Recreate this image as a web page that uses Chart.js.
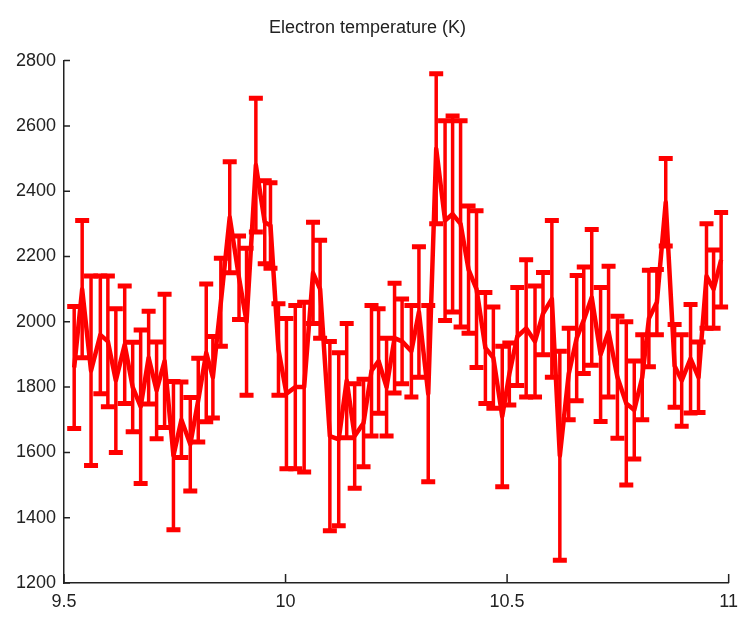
<!DOCTYPE html>
<html lang="fr">
<head>
<meta charset="utf-8">
<title>Electron temperature (K)</title>
<script src="https://cdn.jsdelivr.net/npm/chart.js@4.4.0/dist/chart.umd.min.js"></script>
<style>
    html, body { margin: 0; padding: 0; background: #ffffff; }
    #temp-chart { display: block; }
</style>
</head>
<body>
<canvas id="temp-chart" width="746" height="621"></canvas>
<script>
// Données (abscisse, température, demi-barre d'erreur)
const heures = [
    9.523, 9.541, 9.561, 9.582, 9.599, 9.617, 9.637, 9.655, 9.673, 9.691,
    9.709, 9.727, 9.747, 9.765, 9.785, 9.803, 9.821, 9.836, 9.854, 9.874,
    9.895, 9.912, 9.933, 9.953, 9.966, 9.984, 10.002, 10.022, 10.042, 10.062,
    10.078, 10.100, 10.120, 10.138, 10.156, 10.176, 10.194, 10.210, 10.228, 10.246,
    10.263, 10.284, 10.301, 10.322, 10.340, 10.360, 10.377, 10.395, 10.413, 10.431,
    10.451, 10.469, 10.489, 10.505, 10.523, 10.543, 10.563, 10.581, 10.601, 10.619,
    10.639, 10.657, 10.673, 10.691, 10.711, 10.729, 10.749, 10.769, 10.787, 10.805,
    10.820, 10.838, 10.858, 10.878, 10.894, 10.914, 10.932, 10.950, 10.966, 10.983
];
const temperatures = [
    1860, 2100, 1850, 1960, 1940, 1820, 1930, 1800, 1740, 1890,
    1790, 1880, 1590, 1700, 1625, 1760, 1905, 1830, 2060, 2320,
    2135, 2000, 2480, 2305, 2295, 1915, 1780, 1800, 1800, 2150,
    2100, 1650, 1640, 1820, 1650, 1690, 1850, 1880, 1800, 1950,
    1940, 1910, 2030, 1780, 2530, 2310, 2330, 2300, 2160, 2100,
    1920, 1890, 1710, 1840, 1955, 1980, 1940, 2025, 2070, 1590,
    1840, 1950, 2005, 2075, 1900, 1970, 1830, 1750, 1730, 1830,
    2010, 2060, 2366, 1865, 1820, 1887, 1830, 2140, 2100, 2190
];
const erreurs = [
    187, 210, 290, 180, 200, 220, 180, 137, 235, 142,
    148, 204, 227, 116, 143, 128, 211, 125, 135, 170,
    128, 225, 205, 127, 131, 140, 230, 250, 260, 155,
    150, 290, 265, 175, 160, 134, 200, 160, 150, 168,
    130, 140, 200, 270, 230, 306, 300, 316, 195, 240,
    170, 155, 215, 95, 150, 210, 170, 126, 240, 320,
    140, 192, 163, 208, 205, 200, 187, 250, 150, 130,
    148, 100, 134, 127, 140, 166, 108, 160, 120, 145
];
const ticksX = [9.5, 10, 10.5, 11];
const ticksY = [1200, 1400, 1600, 1800, 2000, 2200, 2400, 2600, 2800];
const titre = 'Electron temperature (K)';

const rouge = '#ff0000';
const police = '"Liberation Sans Narrow", "Arial Narrow", "Liberation Sans", sans-serif';

// Plugin : barres d'erreur verticales avec capuchons
const barresErreur = {
    id: 'barresErreur',
    afterDatasetsDraw(chart) {
        const ctx = chart.ctx;
        const sx = chart.scales.x;
        const sy = chart.scales.y;
        ctx.save();
        ctx.strokeStyle = rouge;
        heures.forEach((h, i) => {
            const px = sx.getPixelForValue(h);
            const haut = sy.getPixelForValue(temperatures[i] + erreurs[i]);
            const bas = sy.getPixelForValue(temperatures[i] - erreurs[i]);
            ctx.lineWidth = 3.5;
            ctx.beginPath();
            ctx.moveTo(px, haut);
            ctx.lineTo(px, bas);
            ctx.stroke();
            // capuchons
            ctx.lineWidth = 5;
            ctx.beginPath();
            ctx.moveTo(px - 7, haut);
            ctx.lineTo(px + 7, haut);
            ctx.moveTo(px - 7, bas);
            ctx.lineTo(px + 7, bas);
            ctx.stroke();
        });
        ctx.restore();
    }
};

// Plugin : graduations tournées vers l'intérieur (style MATLAB)
const graduations = {
    id: 'graduations',
    afterDraw(chart) {
        const ctx = chart.ctx;
        const area = chart.chartArea;
        const sx = chart.scales.x;
        const sy = chart.scales.y;
        ctx.save();
        ctx.strokeStyle = '#222222';
        ctx.lineWidth = 1.5;
        ctx.beginPath();
        sx.ticks.forEach((t, i) => {
            const px = sx.getPixelForTick(i);
            ctx.moveTo(px, area.bottom);
            ctx.lineTo(px, area.bottom - 9);
        });
        sy.ticks.forEach((t, i) => {
            const py = sy.getPixelForTick(i);
            ctx.moveTo(area.left, py);
            ctx.lineTo(area.left + 6, py);
        });
        ctx.stroke();
        ctx.restore();
    }
};

document.addEventListener('DOMContentLoaded', function() {
    const ctx = document.getElementById('temp-chart').getContext('2d');
    const points = heures.map((h, i) => ({ x: h, y: temperatures[i] }));

    new Chart(ctx, {
        type: 'line',
        data: {
            datasets: [{
                data: points,
                borderColor: rouge,
                borderWidth: 4.5,
                borderJoinStyle: 'round',
                pointRadius: 0,
                tension: 0,
                fill: false
            }]
        },
        options: {
            responsive: false,
            animation: false,
            layout: { padding: { left: 0, right: 11, top: 0, bottom: 0 } },
            plugins: {
                legend: { display: false },
                tooltip: { enabled: false },
                title: {
                    display: true,
                    text: titre,
                    color: '#222222',
                    font: { family: police, size: 18, weight: 'normal' },
                    padding: { top: 17, bottom: 22 }
                }
            },
            scales: {
                x: {
                    type: 'linear',
                    min: 9.5,
                    max: 11,
                    afterBuildTicks: scale => { scale.ticks = ticksX.map(v => ({ value: v })); },
                    afterFit: scale => { scale.height = 38; },
                    grid: { display: false, drawTicks: false },
                    border: { display: true, color: '#222222', width: 1.5 },
                    ticks: {
                        color: '#222222',
                        padding: 8,
                        maxRotation: 0,
                        font: { family: police, size: 18 },
                        callback: v => String(v)
                    }
                },
                y: {
                    type: 'linear',
                    min: 1200,
                    max: 2800,
                    afterBuildTicks: scale => { scale.ticks = ticksY.map(v => ({ value: v })); },
                    afterFit: scale => { scale.width = 64; },
                    grid: { display: false, drawTicks: false },
                    border: { display: true, color: '#222222', width: 1.5 },
                    ticks: {
                        color: '#222222',
                        padding: 8,
                        font: { family: police, size: 18 },
                        callback: v => String(v)
                    }
                }
            }
        },
        plugins: [barresErreur, graduations]
    });
});
</script>
</body>
</html>
